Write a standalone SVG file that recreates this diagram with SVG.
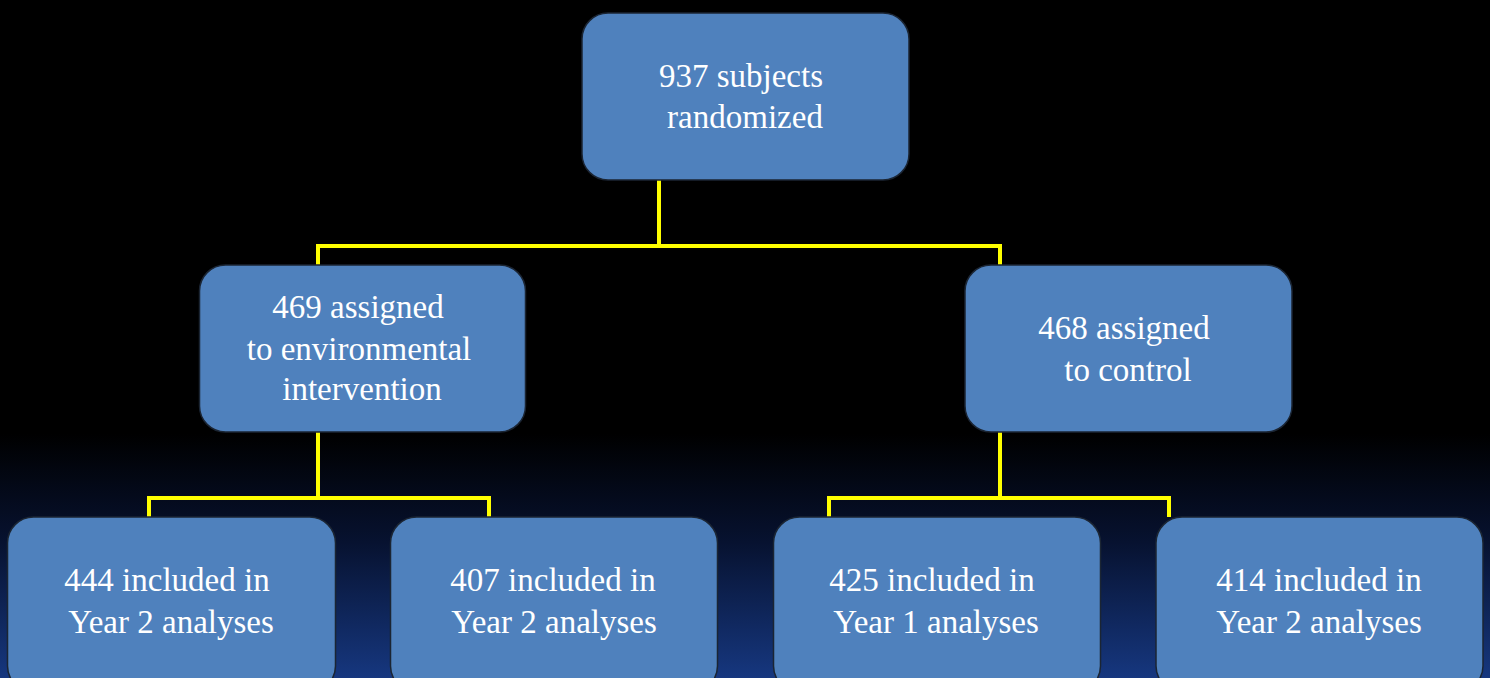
<svg xmlns="http://www.w3.org/2000/svg" width="1490" height="678" viewBox="0 0 1490 678">
  <defs>
    <linearGradient id="bg" x1="0" y1="0" x2="0" y2="1">
      <stop offset="0" stop-color="#000000"/>
      <stop offset="0.64" stop-color="#000000"/>
      <stop offset="0.8" stop-color="#071230"/>
      <stop offset="1" stop-color="#16377f"/>
    </linearGradient>
  </defs>
  <style>
    .box { fill: #4F81BD; stroke: #1b2533; stroke-width: 1.5; }
    .lbl { font-family: "Liberation Serif", "DejaVu Serif", serif; font-size: 33px; fill: #ffffff; text-anchor: middle; }
    .conn { fill: none; stroke: #FFFF00; stroke-width: 4; stroke-linecap: butt; stroke-linejoin: miter; }
  </style>
  <rect x="0" y="0" width="1490" height="678" fill="url(#bg)"/>

  <g id="connectors">
    <path class="conn" d="M659 180 V246"/>
    <path class="conn" d="M318 265 V246 H1000 V265"/>
    <path class="conn" d="M318 432 V498"/>
    <path class="conn" d="M149 517 V498 H489 V517"/>
    <path class="conn" d="M1000 432 V498"/>
    <path class="conn" d="M829 517 V498 H1169 V517"/>
  </g>

  <g id="node-randomized">
    <rect class="box" x="582" y="13" width="327" height="167" rx="26"/>
    <text class="lbl" x="741" y="87">937 subjects</text>
    <text class="lbl" x="745" y="128">randomized</text>
  </g>

  <g id="node-intervention">
    <rect class="box" x="199.5" y="265" width="326" height="167" rx="26"/>
    <text class="lbl" x="358" y="318">469 assigned</text>
    <text class="lbl" x="359" y="360">to environmental</text>
    <text class="lbl" x="362" y="400">intervention</text>
  </g>

  <g id="node-control">
    <rect class="box" x="965" y="265" width="327" height="167" rx="26"/>
    <text class="lbl" x="1124" y="339">468 assigned</text>
    <text class="lbl" x="1128" y="381">to control</text>
  </g>

  <g id="node-444">
    <rect class="box" x="7.5" y="517" width="328" height="175" rx="26"/>
    <text class="lbl" x="167" y="591">444 included in</text>
    <text class="lbl" x="171" y="633">Year 2 analyses</text>
  </g>

  <g id="node-407">
    <rect class="box" x="390.5" y="517" width="327" height="175" rx="26"/>
    <text class="lbl" x="553" y="591">407 included in</text>
    <text class="lbl" x="554" y="633">Year 2 analyses</text>
  </g>

  <g id="node-425">
    <rect class="box" x="773.5" y="517" width="327" height="175" rx="26"/>
    <text class="lbl" x="932" y="591">425 included in</text>
    <text class="lbl" x="936" y="633">Year 1 analyses</text>
  </g>

  <g id="node-414">
    <rect class="box" x="1156" y="517" width="327" height="175" rx="26"/>
    <text class="lbl" x="1319" y="591">414 included in</text>
    <text class="lbl" x="1319" y="633">Year 2 analyses</text>
  </g>
</svg>
